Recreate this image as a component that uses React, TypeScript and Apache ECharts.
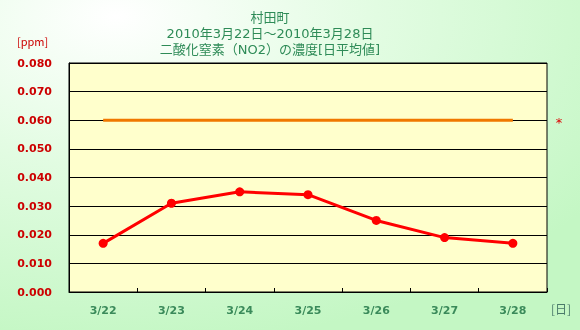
import React, { useEffect, useRef } from "react";
import * as echarts from "echarts";

const categories = ["3/22", "3/23", "3/24", "3/25", "3/26", "3/27", "3/28"];
const no2Values = [0.017, 0.031, 0.035, 0.034, 0.025, 0.019, 0.017];
const standardValues = [0.06, 0.06, 0.06, 0.06, 0.06, 0.06, 0.06];
const titleLines = ["村田町", "2010年3月22日～2010年3月28日", "二酸化窒素（NO2）の濃度[日平均値]"];
const yUnit = "[ppm]";
const xUnit = "[日]";

export default function App() {
  const ref = useRef<HTMLDivElement>(null);
  useEffect(() => {
    if (!ref.current) return;
    const chart = echarts.init(ref.current, null, { renderer: "svg" });
    const font = "'Noto Sans CJK JP', 'DejaVu Sans', sans-serif";
    const titleFont = "'DejaVu Sans', 'Noto Sans CJK JP', sans-serif";
    const titleSizes = [13, 13, 13];
    const titleY = [17, 33, 49];
    chart.setOption({
      animation: false,
      backgroundColor: {
        type: "radial",
        x: 0.2,
        y: 0.05,
        r: 1.0,
        colorStops: [
          { offset: 0, color: "#ffffff" },
          { offset: 0.45, color: "#e2fce2" },
          { offset: 1, color: "#c4f7c4" },
        ],
      },
      grid: {
        left: 69,
        top: 63,
        width: 478,
        height: 229,
        show: true,
        backgroundColor: "#ffffcc",
        borderColor: "#000000",
        borderWidth: 1,
      },
      xAxis: {
        type: "category",
        data: categories,
        boundaryGap: true,
        axisLine: { show: true, lineStyle: { color: "#000000", width: 1 } },
        axisTick: { show: true, inside: true, length: 4, interval: 0, lineStyle: { color: "#000000" } },
        axisLabel: {
          color: "#3a8a5a",
          fontWeight: "bold",
          fontSize: 11,
          fontFamily: "'DejaVu Sans', sans-serif",
          margin: 13,
        },
        splitLine: { show: false },
      },
      yAxis: {
        type: "value",
        min: 0,
        max: 0.08,
        interval: 0.01,
        axisLine: { show: true, lineStyle: { color: "#000000" } },
        axisTick: { show: false },
        axisLabel: {
          color: "#cc0000",
          fontWeight: "bold",
          fontSize: 11,
          fontFamily: "'DejaVu Sans', sans-serif",
          margin: 17,
          formatter: (v: number) => v.toFixed(3),
        },
        splitLine: { show: true, lineStyle: { color: "#000000", width: 1 } },
      },
      graphic: [
        ...titleLines.map((t, i) => ({
          type: "text",
          x: 270,
          y: titleY[i],
          style: {
            text: t,
            fill: "#2e8b57",
            fontSize: titleSizes[i],
            lineHeight: 14,
            fontFamily: titleFont,
            align: "center",
            verticalAlign: "middle",
          },
        })),
        {
          type: "text",
          left: 17,
          top: 35,
          style: { text: yUnit, fill: "#cc0000", fontSize: 11, fontFamily: font },
        },
        {
          type: "text",
          left: 551,
          top: 302,
          style: { text: xUnit, fill: "#4a7a6a", fontSize: 12, fontFamily: font },
        },
        {
          type: "text",
          x: 559,
          y: 122,
          style: {
            text: "*",
            fill: "#dd0000",
            fontSize: 13,
            fontFamily: "'DejaVu Sans', sans-serif",
            align: "center",
            verticalAlign: "middle",
          },
        },
      ],
      series: [
        {
          type: "line",
          data: standardValues,
          symbol: "none",
          lineStyle: { color: "#f07800", width: 3 },
          z: 3,
        },
        {
          type: "line",
          data: no2Values,
          symbol: "circle",
          symbolSize: 9,
          itemStyle: { color: "#ff0000" },
          lineStyle: { color: "#ff0000", width: 3 },
          z: 4,
        },
      ],
    });
    return () => chart.dispose();
  }, []);
  return (
    <div
      ref={ref}
      style={{ position: "fixed", left: 0, top: 0, width: 580, height: 330 }}
    />
  );
}
